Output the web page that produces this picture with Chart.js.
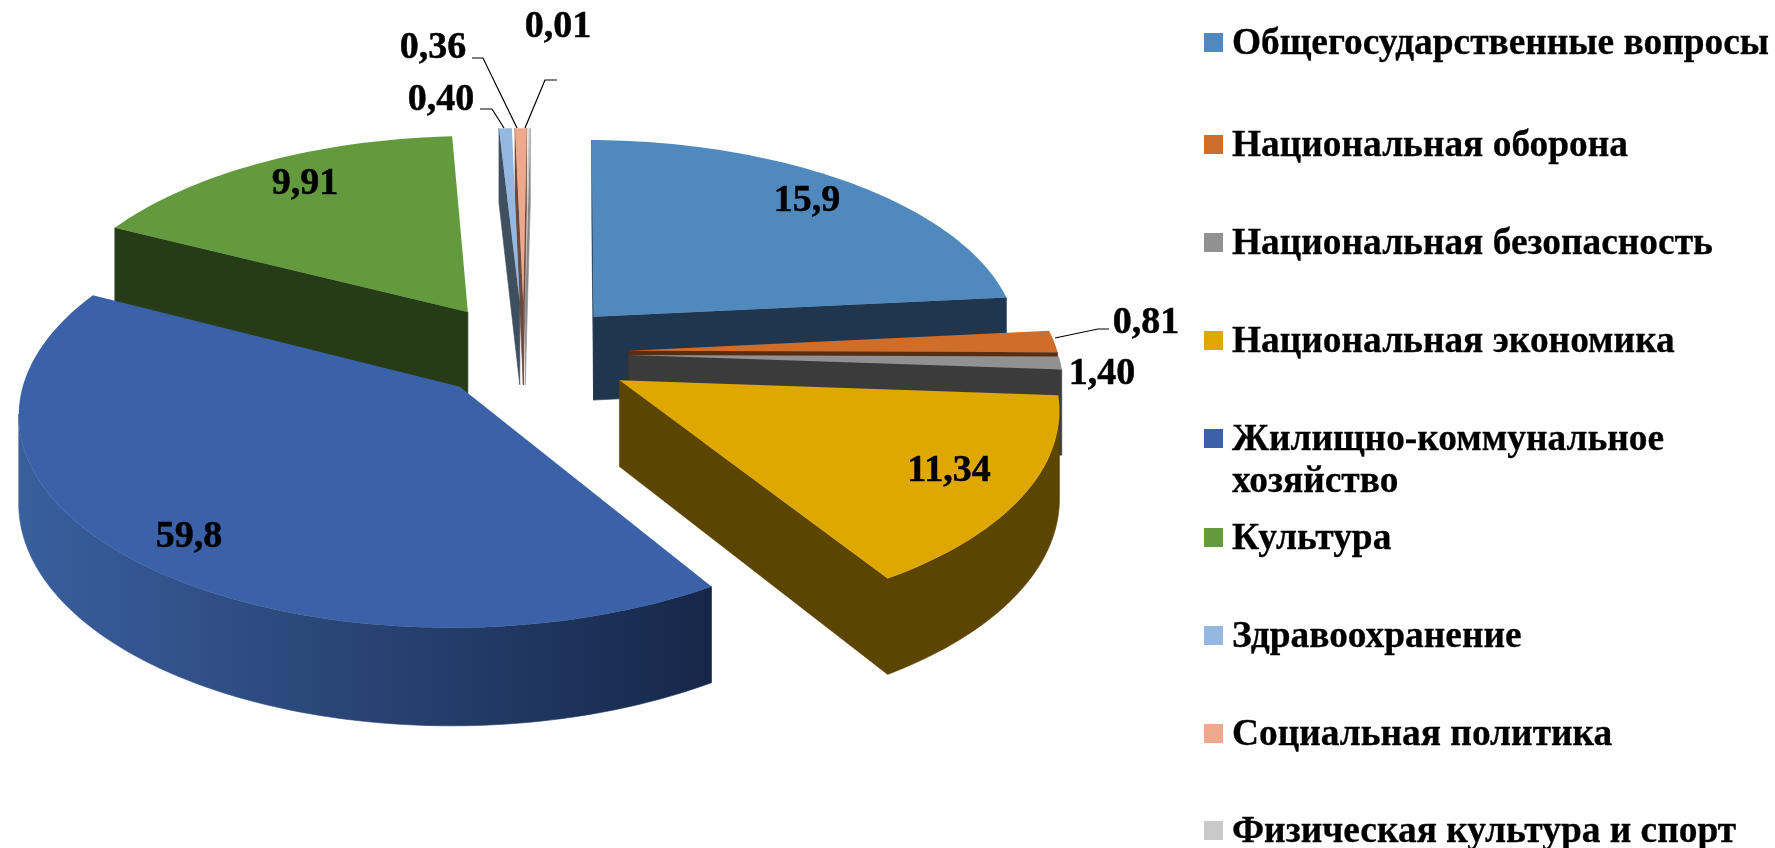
<!DOCTYPE html>
<html lang="ru">
<head>
<meta charset="utf-8">
<title>Расходы бюджета</title>
<script src="https://cdn.jsdelivr.net/npm/chart.js@4"></script>
<style>
  html, body { margin: 0; padding: 0; background: #fff; }
  #wrap { position: relative; width: 1775px; height: 848px; overflow: hidden; font-family: 'Liberation Serif', serif; }
  #chart { position: absolute; left: 0; top: 0; }
  .legend-row { position: absolute; left: 1204px; font-weight: bold; font-size: 37.4px; line-height: 42px; white-space: nowrap; }
  .legend-row i { position: absolute; left: 0; top: 12px; width: 19px; height: 19px; }
  .legend-row span { position: absolute; left: 28px; top: 0; -webkit-text-stroke: 0.3px #000; }
</style>
</head>
<body>
<div id="wrap"><canvas id="chart" width="1775" height="848"></canvas></div>
<script>
const categories = [
  'Общегосударственные вопросы',
  'Национальная оборона',
  'Национальная безопасность',
  'Национальная экономика',
  'Жилищно-коммунальное|хозяйство',
  'Культура',
  'Здравоохранение',
  'Социальная политика',
  'Физическая культура и спорт',
];
// values printed on the reference
const printedValues = ['15,9', '0,81', '1,40', '11,34', '59,8', '9,91', '0,40', '0,36', '0,01'];
// slice sizes as measured on the picture (%): the reference does not draw its slices to the printed values
const sliceShares = [23.3, 1.7, 1.0, 15.0, 41.6, 16.7, 0.55, 0.5, 0.08];

const topColors = ['#4f89bd', '#d06d28', '#919191', '#dfa800', '#3b62a9', '#639a3d', '#95b8e0', '#eea98c', '#c9c9c9'];
const sideColors = ['#20364f', '#5a2d10', '#3b3b3b', '#5c4500', '#16284a', '#263c16', '#3f4f60', '#6e4a3c', '#8a8a8a'];
const explode = [92, 92, 92, 96, 82, 92, 96, 96, 96];

// 3d view of the pie plane
const VIEW = { cx: 524, cy: 353, rx: 429, ry: 205, persp: 0.115, depth: 85 };

function project(u, v, z) {
  const w = 1 - VIEW.persp * v;
  return { x: VIEW.cx + VIEW.rx * u / w, y: VIEW.cy + (VIEW.ry * v + VIEW.depth * z) / w };
}

function sliceOutline(arc) {
  const { startAngle, endAngle, outerRadius } = arc.getProps(['startAngle', 'endAngle', 'outerRadius']);
  const mid = (startAngle + endAngle) / 2;
  const d = arc.options.offset / outerRadius;
  const ox = d * Math.cos(mid);
  const oy = d * Math.sin(mid);
  const pts = [[ox, oy]];
  const steps = Math.max(2, Math.ceil((endAngle - startAngle) / 0.02));
  for (let i = 0; i <= steps; i++) {
    const a = startAngle + (endAngle - startAngle) * i / steps;
    pts.push([ox + Math.cos(a), oy + Math.sin(a)]);
  }
  return pts;
}

function fillWall(ctx, top, bottom, run) {
  ctx.beginPath();
  run.forEach((k, j) => (j ? ctx.lineTo(top[k].x, top[k].y) : ctx.moveTo(top[k].x, top[k].y)));
  [...run].reverse().forEach((k) => ctx.lineTo(bottom[k].x, bottom[k].y));
  ctx.closePath();
  ctx.fill();
  ctx.stroke();
}

function drawSlice(ctx, arc, i) {
  const pts = sliceOutline(arc);
  const top = pts.map((p) => project(p[0], p[1], 0));
  const bottom = pts.map((p) => project(p[0], p[1], 1));

  let side = sideColors[i];
  if (i === 4) {
    side = ctx.createLinearGradient(15, 0, 707, 0);
    side.addColorStop(0, '#3a5f9e');
    side.addColorStop(1, sideColors[i]);
  }
  ctx.fillStyle = side;
  ctx.strokeStyle = side;
  ctx.lineWidth = 0.6;
  // only the walls facing the viewer are drawn, joined into runs
  let run = [];
  for (let k = 0; k < top.length; k++) {
    const n = (k + 1) % top.length;
    if (top[n].x < top[k].x) {
      if (!run.length) run.push(k);
      run.push(n);
    } else if (run.length) {
      fillWall(ctx, top, bottom, run);
      run = [];
    }
  }
  if (run.length) fillWall(ctx, top, bottom, run);

  ctx.fillStyle = arc.options.backgroundColor;
  ctx.beginPath();
  top.forEach((p, k) => (k ? ctx.lineTo(p.x, p.y) : ctx.moveTo(p.x, p.y)));
  ctx.closePath();
  ctx.fill();
}

const labelSpots = [[807, 201], [1146, 323], [1102, 374], [949, 471], [189, 537], [305, 184], [441, 100], [433, 48], [558, 27]];
const leaders = [
  null,
  [[1055, 338], [1098, 329], [1109, 329]],
  null, null, null, null,
  [[480, 109], [492, 109], [504, 128]],
  [[472, 58], [483, 58], [517, 128]],
  [[557, 80], [545, 80], [525, 128]],
];

const pie3d = {
  id: 'pie3d',
  beforeDatasetDraw(chart, args) {
    const ctx = chart.ctx;
    const arcs = args.meta.data;
    const order = arcs.map((arc, i) => {
      const { startAngle, endAngle } = arc.getProps(['startAngle', 'endAngle']);
      return { i, depth: Math.sin((startAngle + endAngle) / 2) };
    }).sort((a, b) => a.depth - b.depth);
    ctx.save();
    order.forEach((o) => drawSlice(ctx, arcs[o.i], o.i));
    ctx.restore();
    return false;
  },
  afterDatasetsDraw(chart) {
    const ctx = chart.ctx;
    ctx.save();
    ctx.strokeStyle = '#000';
    ctx.lineWidth = 1.2;
    leaders.forEach((line) => {
      if (!line) return;
      ctx.beginPath();
      line.forEach((p, k) => (k ? ctx.lineTo(p[0], p[1]) : ctx.moveTo(p[0], p[1])));
      ctx.stroke();
    });
    ctx.fillStyle = '#000';
    ctx.font = "bold 38px 'Liberation Serif'";
    ctx.textAlign = 'center';
    ctx.textBaseline = 'middle';
    ctx.lineWidth = 0.5;
    printedValues.forEach((txt, i) => {
      ctx.fillText(txt, labelSpots[i][0], labelSpots[i][1]);
      ctx.strokeText(txt, labelSpots[i][0], labelSpots[i][1]);
    });
    ctx.restore();
  },
};

new Chart(document.getElementById('chart'), {
  type: 'pie',
  data: {
    labels: categories.map((c) => c.replace('|', ' ')),
    datasets: [{ data: sliceShares, backgroundColor: topColors, offset: explode, borderWidth: 0 }],
  },
  options: {
    responsive: false,
    animation: false,
    rotation: 0.8,
    plugins: { legend: { display: false }, tooltip: { enabled: false } },
  },
  plugins: [pie3d],
});

const legendTops = [21, 123, 221, 319, 417, 516, 614, 712, 809];
const wrap = document.getElementById('wrap');
categories.forEach((name, i) => {
  const row = document.createElement('div');
  row.className = 'legend-row';
  row.style.top = `${legendTops[i]}px`;
  row.innerHTML = `<i style="background:${topColors[i]}"></i><span>${name.replace('|', '<br>')}</span>`;
  wrap.appendChild(row);
});
</script>
</body>
</html>
